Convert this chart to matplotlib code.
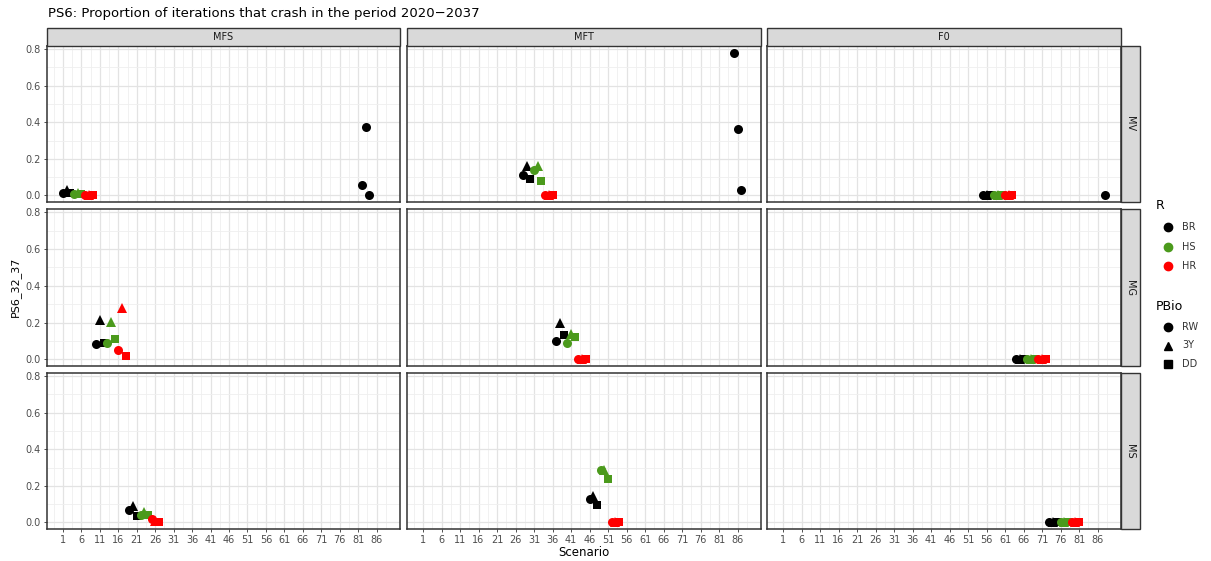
import numpy as np
import matplotlib
matplotlib.use('Agg')
import matplotlib.pyplot as plt
from matplotlib.lines import Line2D
from matplotlib.patches import Rectangle

# 数据: 每个情景一个点
scenario = list(range(1, 89))
col_grp = (['MFS'] * 27 + ['MFT'] * 27 + ['F0'] * 27
           + ['MFS'] * 3 + ['MFT'] * 3 + ['F0'])
row_grp = (['MV'] * 9 + ['MG'] * 9 + ['MS'] * 9
           + ['MV'] * 9 + ['MG'] * 9 + ['MS'] * 9
           + ['MV'] * 9 + ['MG'] * 9 + ['MS'] * 9
           + ['MV'] * 7)
r_block = ['BR', 'BR', 'BR', 'HS', 'HS', 'HS', 'HR', 'HR', 'HR']
p_block = ['RW', '3Y', 'DD', 'RW', '3Y', 'DD', 'RW', '3Y', 'DD']
r_grp = r_block * 9 + ['BR'] * 7
pbio = p_block * 9 + ['RW'] * 7
ps6 = [0.015, 0.03, 0.015, 0.01, 0.015, 0.01, 0.0, 0.005, 0.0,
       0.085, 0.215, 0.088, 0.088, 0.205, 0.108, 0.052, 0.28, 0.02,
       0.07, 0.092, 0.033, 0.04, 0.055, 0.04, 0.02, 0.01, 0.0,
       0.11, 0.16, 0.088, 0.14, 0.16, 0.078, 0.0, 0.0, 0.0,
       0.10, 0.20, 0.134, 0.088, 0.14, 0.12, 0.0, 0.0, 0.0,
       0.13, 0.145, 0.095, 0.285, 0.285, 0.24, 0.0, 0.005, 0.0,
       0.0, 0.0, 0.0, 0.0, 0.0, 0.0, 0.0, 0.0, 0.0,
       0.0, 0.0, 0.0, 0.0, 0.0, 0.0, 0.0, 0.0, 0.0,
       0.0, 0.0, 0.0, 0.0, 0.0, 0.0, 0.0, 0.0, 0.0,
       0.055, 0.375, 0.0, 0.78, 0.365, 0.027, 0.0]

cols = ['MFS', 'MFT', 'F0']
rows = ['MV', 'MG', 'MS']
r_levels = ['BR', 'HS', 'HR']
p_levels = ['RW', '3Y', 'DD']
r_colors = {'BR': 'black', 'HS': '#4B9A1C', 'HR': '#FF0000'}
p_markers = {'RW': 'o', '3Y': '^', 'DD': 's'}
p_sizes = {'RW': 6.5, '3Y': 6.5, 'DD': 6.0}
x_breaks = list(range(1, 87, 5))
y_breaks = [0.0, 0.2, 0.4, 0.6, 0.8]

W, H = 1211, 561
fig = plt.figure(figsize=(W / 100, H / 100), dpi=100)

def fbox(x0, y0, x1, y1):
    # 像素坐标 -> figure 坐标
    return [x0 / W, 1 - y1 / H, (x1 - x0) / W, (y1 - y0) / H]

col_x = [(47, 400), (407, 761), (767, 1121)]
row_y = [(46, 202), (209, 366), (373, 529)]
grey20 = '#333333'

for i, rn in enumerate(rows):
    for j, cn in enumerate(cols):
        ax = fig.add_axes(fbox(col_x[j][0], row_y[i][0], col_x[j][1], row_y[i][1]))
        ax.set_xlim(-3.35, 92.35)
        ax.set_ylim(-0.036, 0.817)
        ax.set_xticks(x_breaks)
        ax.set_yticks(y_breaks)
        ax.set_xticks(np.arange(-1.5, 90, 5), minor=True)
        ax.set_yticks([0.1, 0.3, 0.5, 0.7], minor=True)
        ax.grid(True, which='major', color='#E3E3E3', linewidth=0.9)
        ax.grid(True, which='minor', color='#EFEFEF', linewidth=0.6)
        ax.set_axisbelow(True)
        for s in ax.spines.values():
            s.set_color(grey20)
            s.set_linewidth(1.1)
        ax.tick_params(which='minor', length=0)
        ax.tick_params(which='major', length=2.5, width=0.6, color=grey20,
                       labelsize=7, labelcolor='#4D4D4D', pad=2)
        if j == 0:
            ax.set_yticklabels(['0.0', '0.2', '0.4', '0.6', '0.8'])
        else:
            ax.tick_params(axis='y', length=0, labelleft=False)
        if i == 2:
            ax.set_xticklabels([str(b) for b in x_breaks])
        else:
            ax.tick_params(axis='x', length=0, labelbottom=False)

        for k in range(len(scenario)):
            if col_grp[k] == cn and row_grp[k] == rn:
                ax.plot(scenario[k], ps6[k], linestyle='none',
                        marker=p_markers[pbio[k]], ms=p_sizes[pbio[k]],
                        color=r_colors[r_grp[k]], markeredgewidth=0)

        # 顶部分面标签
        if i == 0:
            fig.patches.append(Rectangle((col_x[j][0] / W, 1 - 46 / H),
                                         (col_x[j][1] - col_x[j][0]) / W, 18 / H,
                                         transform=fig.transFigure, facecolor='#D9D9D9',
                                         edgecolor=grey20, linewidth=1.0))
            fig.text((col_x[j][0] + col_x[j][1]) / 2 / W, 1 - 37 / H, cn,
                     ha='center', va='center', fontsize=7, color='#1A1A1A')
    # 右侧分面标签
    fig.patches.append(Rectangle((1121 / W, 1 - row_y[i][1] / H), 19 / W,
                                 (row_y[i][1] - row_y[i][0]) / H,
                                 transform=fig.transFigure, facecolor='#D9D9D9',
                                 edgecolor=grey20, linewidth=1.0))
    fig.text(1130.5 / W, 1 - (row_y[i][0] + row_y[i][1]) / 2 / H, rn,
             ha='center', va='center', rotation=-90, fontsize=7, color='#1A1A1A')

fig.text(48 / W, 1 - 13 / H, 'PS6: Proportion of iterations that crash in the period 2020\u22122037',
         ha='left', va='center', fontsize=9.5, color='black')
fig.text(15 / W, 1 - 287 / H, 'PS6_32_37', rotation=90, ha='center', va='center',
         fontsize=8, color='black')
fig.text(584 / W, 1 - 552 / H, 'Scenario', ha='center', va='center', fontsize=8.5,
         color='black')

# 图例
fig.text(1156 / W, 1 - 205 / H, 'R', ha='left', va='center', fontsize=9)
for k, lv in enumerate(r_levels):
    y = 227 + k * 19.5
    fig.add_artist(Line2D([1168 / W], [1 - y / H], transform=fig.transFigure,
                          marker='o', ms=6, color=r_colors[lv], linestyle='none'))
    fig.text(1182 / W, 1 - y / H, lv, ha='left', va='center', fontsize=7, color='#333333')
fig.text(1156 / W, 1 - 306 / H, 'PBio', ha='left', va='center', fontsize=9)
for k, lv in enumerate(p_levels):
    y = 327 + k * 18.5
    fig.add_artist(Line2D([1168 / W], [1 - y / H], transform=fig.transFigure,
                          marker=p_markers[lv], ms=6, color='black', linestyle='none'))
    fig.text(1182 / W, 1 - y / H, lv, ha='left', va='center', fontsize=7, color='#333333')

fig.savefig('out.png', dpi=100)
